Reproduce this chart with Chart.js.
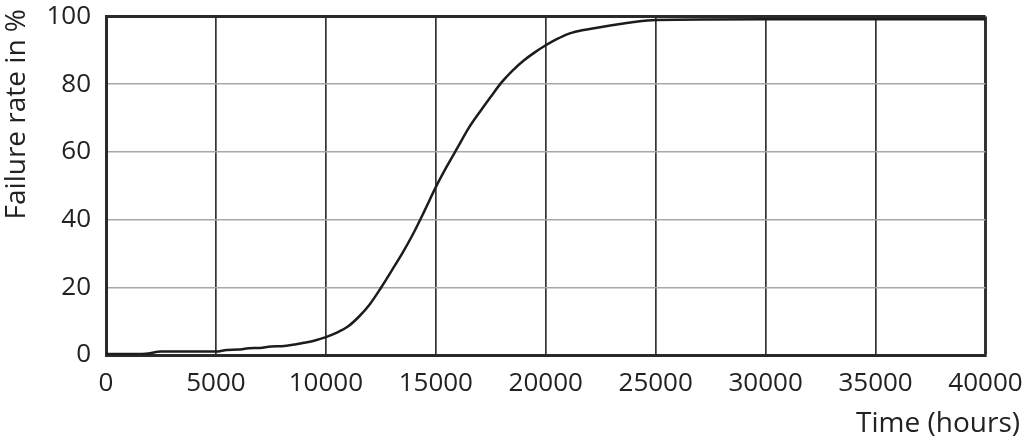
<!DOCTYPE html>
<html>
<head>
<meta charset="utf-8">
<script src="https://cdn.jsdelivr.net/npm/chart.js@4.4.1/dist/chart.umd.min.js"></script>
<style>
    html, body { margin: 0; padding: 0; background: #fff; }
    #wrap { width: 1024px; height: 444px; position: relative; }
</style>
</head>
<body>
<div id="wrap"><canvas id="chart"></canvas></div>
<script>
// time in hours and cumulative failure rate in %
const hours = [0, 1000, 1800, 2500, 5000, 5500, 6000, 6500, 7000, 7500, 8000, 8500, 9000, 9500,
    10000, 10500, 11000, 11500, 12000, 12500, 13000, 13500, 14000, 14500, 15000, 15500, 16000,
    16500, 17000, 17500, 18000, 18500, 19000, 19500, 20000, 20500, 21000, 21500, 22000, 23000,
    24000, 25000, 30000, 35000, 40000];
const failureRate = [0.3, 0.3, 0.4, 1.0, 1.0, 1.5, 1.6, 2.0, 2.1, 2.5, 2.6, 3.0, 3.6, 4.3,
    5.3, 6.6, 8.4, 11.3, 15.0, 19.8, 25.0, 30.3, 36.2, 42.8, 49.6, 55.7, 61.4,
    67.1, 71.8, 76.3, 80.6, 84.1, 87.0, 89.4, 91.5, 93.3, 94.8, 95.7, 96.3, 97.4,
    98.4, 99.0, 99.2, 99.2, 99.2];
const xTicks = [0, 5000, 10000, 15000, 20000, 25000, 30000, 35000, 40000];
const yLabelled = [0, 20, 40, 60, 80, 100];

const yTitle = 'Failure rate in %';
const xTitle = 'Time (hours)';
const FONT = '"Open Sans", "DejaVu Sans", sans-serif';

const axisTitles = {
    id: 'axisTitles',
    afterDraw(chart) {
        const ctx = chart.ctx;
        ctx.save();
        ctx.fillStyle = '#222';
        ctx.font = `28px ${FONT}`;
        ctx.textBaseline = 'middle';
        ctx.textAlign = 'right';
        ctx.fillText(xTitle, 1020, 424);
        ctx.translate(17, 9);
        ctx.rotate(-Math.PI / 2);
        ctx.fillText(yTitle, 0, 0);
        ctx.restore();
    }
};

new Chart(document.getElementById('chart'), {
    type: 'line',
    data: {
        datasets: [{
            data: hours.map((h, i) => ({ x: h, y: failureRate[i] })),
            borderColor: '#1c1c1c',
            borderWidth: 2.5,
            pointRadius: 0,
            cubicInterpolationMode: 'monotone',
            fill: false
        }]
    },
    options: {
        responsive: true,
        maintainAspectRatio: false,
        animation: false,
        layout: { padding: { top: 16.5, right: 38.5, left: 0, bottom: 0 } },
        plugins: { legend: { display: false }, tooltip: { enabled: false } },
        scales: {
            x: {
                type: 'linear',
                min: 0,
                max: 40000,
                afterBuildTicks: (scale) => { scale.ticks = xTicks.map(v => ({ value: v })); },
                afterFit: (scale) => {
                    scale.height = 89;
                    scale.paddingLeft = 0;
                    scale.paddingRight = 0;
                },
                ticks: {
                    color: '#222',
                    font: { family: FONT, size: 26 },
                    padding: 13,
                    maxRotation: 0,
                    autoSkip: false,
                    callback: (v) => String(v)
                },
                grid: {
                    drawTicks: false,
                    color: '#333',
                    lineWidth: (c) => c.tick && c.tick.value === 40000 ? 3 : 1.7
                },
                border: { color: '#2a2a2a', width: 3 }
            },
            y: {
                min: 0,
                max: 100,
                afterFit: (scale) => {
                    scale.width = 106;
                    scale.paddingTop = 0;
                    scale.paddingBottom = 0;
                },
                ticks: {
                    stepSize: 10,
                    color: '#222',
                    font: { family: FONT, size: 26 },
                    padding: 15,
                    callback: (v) => yLabelled.includes(v) ? String(v) : ''
                },
                grid: {
                    drawTicks: false,
                    color: (c) => c.tick && c.tick.value === 100 ? '#2a2a2a' : '#a8a8a8',
                    lineWidth: (c) => c.tick && c.tick.value === 100 ? 3 : 1.6
                },
                border: { color: '#2a2a2a', width: 3 }
            }
        }
    },
    plugins: [axisTitles]
});
</script>
</body>
</html>
